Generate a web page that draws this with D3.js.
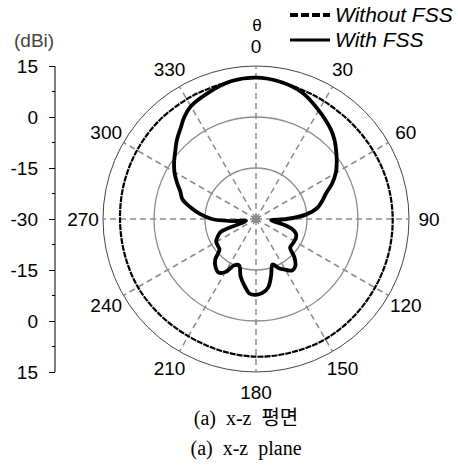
<!DOCTYPE html>
<html>
<head>
<meta charset="utf-8">
<script src="https://cdn.jsdelivr.net/npm/d3@7"></script>
<style>
  body { margin: 0; background: #fff; }
  svg { display: block; }
</style>
</head>
<body>
<script>
// angles in degrees, gains in dBi
var anglesWith = [0, 10, 20, 30, 40, 45, 50, 55, 60, 65, 70, 75, 80, 85, 90, 95, 100, 105, 110, 115,
  120, 125, 130, 135, 140, 145, 150, 155, 160, 165, 170, 175, 180, 185, 190, 195, 200, 205, 210, 215,
  220, 225, 230, 235, 240, 245, 250, 255, 260, 265, 270, 275, 280, 285, 290, 295, 300, 305, 310, 315,
  320, 325, 330, 340, 350];
var gainWith = [11.6, 11.0, 9.6, 6.9, 4.3, 2.7, 0.8, -1.0, -2.9, -5.3, -8.1, -9.9, -11.8, -15.3, -21, -25.5, -23, -19.2, -17.5, -17,
  -17, -17, -16.9, -14, -12, -11.5, -12.8, -14, -15.8, -12.8, -9.5, -8.2, -7.7, -8, -10.2, -12.5, -15.5, -15, -12, -10.8,
  -11.5, -13, -16, -16.3, -16.5, -17.5, -19, -26, -27, -23, -17, -13.6, -10.5, -7.6, -6.3, -4.3, -2.3, -0.6, 1.0, 2.9,
  4.6, 6.7, 8.3, 9.8, 11.2];

var anglesWithout = [0, 10, 20, 30, 45, 60, 75, 90, 105, 120, 135, 150, 165, 180, 195, 210, 225, 240,
  255, 270, 285, 300, 315, 330, 340, 350];
var gainWithout = [11.6, 11.0, 10.3, 10.0, 9.8, 9.9, 10.1, 10.2, 10.3, 10.4, 10.6, 10.8, 10.6, 10.5, 10.1, 9.8, 9.9, 10.1,
  10.0, 10.0, 10.2, 10.4, 10.6, 10.7, 10.8, 11.2];

var angleTicks = [0, 30, 60, 90, 120, 150, 180, 210, 240, 270, 300, 330];
var radialTicks = [-45, -30, -15, 0, 15, 30, 45];
var gridLevels = [-15, 0];
var seriesNames = ["Without FSS", "With FSS"];
var captions = ["(a)  x-z  평면", "(a)  x-z  plane"];

var width = 458, height = 465;
var cx = 256, cy = 219, R = 153;

var svg = d3.select("body").append("svg")
    .attr("width", width)
    .attr("height", height);

var r = d3.scaleLinear().domain([-30, 15]).range([0, R]);
var rad = function(d) { return d * Math.PI / 180; };

var g = svg.append("g").attr("transform", "translate(" + cx + "," + cy + ")");

// grid circles
g.selectAll(".grid")
    .data(gridLevels)
    .enter().append("circle")
    .attr("r", function(d) { return r(d); })
    .attr("fill", "none")
    .attr("stroke", "#8c8c8c")
    .attr("stroke-width", 1.3);

g.append("circle")
    .attr("r", r(15))
    .attr("fill", "none")
    .attr("stroke", "#444")
    .attr("stroke-width", 1);

// spokes
g.selectAll(".spoke")
    .data(angleTicks)
    .enter().append("line")
    .attr("x1", 0).attr("y1", 0)
    .attr("x2", function(d) { return r(15) * Math.sin(rad(d)); })
    .attr("y2", function(d) { return -r(15) * Math.cos(rad(d)); })
    .attr("stroke", "#8c8c8c")
    .attr("stroke-width", 1.5)
    .attr("stroke-dasharray", "6,4");

g.append("circle").attr("r", 4).attr("fill", "#8c8c8c");

// angle labels
g.selectAll(".alabel")
    .data(angleTicks)
    .enter().append("text")
    .attr("x", function(d) { return 173 * Math.sin(rad(d)); })
    .attr("y", function(d) { return -173 * Math.cos(rad(d)); })
    .attr("dy", "0.35em")
    .attr("text-anchor", "middle")
    .style("font-family", "'Liberation Sans', Arial, sans-serif")
    .style("font-size", "19px")
    .text(function(d) { return d; });

// patterns
var line = d3.lineRadial()
    .angle(function(d) { return rad(d[0]); })
    .radius(function(d) { return r(d[1]); })
    .curve(d3.curveCatmullRomClosed);

g.append("path")
    .datum(d3.zip(anglesWithout, gainWithout))
    .attr("d", line)
    .attr("fill", "none")
    .attr("stroke", "#000")
    .attr("stroke-width", 2.2)
    .attr("stroke-dasharray", "6,1");

g.append("path")
    .datum(d3.zip(anglesWith, gainWith))
    .attr("d", line)
    .attr("fill", "none")
    .attr("stroke", "#000")
    .attr("stroke-width", 3.8)
    .attr("stroke-linejoin", "round");

// radial axis on the left
var yAxisScale = d3.scaleLinear().domain([-45, 45]).range([cy + R, cy - R]);
var axisG = svg.append("g")
    .attr("transform", "translate(55,0)")
    .call(d3.axisLeft(yAxisScale)
        .tickValues(radialTicks)
        .tickSize(6)
        .tickPadding(11)
        .tickFormat(function(d) { return Math.abs(d) - 30; }));
axisG.select(".domain").attr("stroke", "#000").attr("d", "M0," + (cy - R) + "V" + (cy + R));
axisG.selectAll("text")
    .style("font-family", "'Liberation Sans', Arial, sans-serif")
    .style("font-size", "19px")
    .attr("fill", "#000");
axisG.selectAll(".minor")
    .data([-37.5, -22.5, -7.5, 7.5, 22.5, 37.5])
    .enter().append("line")
    .attr("x1", -3).attr("x2", 0)
    .attr("y1", function(d) { return yAxisScale(d); })
    .attr("y2", function(d) { return yAxisScale(d); })
    .attr("stroke", "#000");

svg.append("text")
    .attr("x", 14).attr("y", 40).attr("dy", "0.35em")
    .style("font-family", "'Liberation Sans', Arial, sans-serif")
    .style("font-size", "19px")
    .style("fill", "#444")
    .text("(dBi)");

svg.append("text")
    .attr("x", cx + 1).attr("y", 25).attr("dy", "0.35em")
    .attr("text-anchor", "middle")
    .style("font-family", "'Liberation Sans', Arial, sans-serif")
    .style("font-size", "17px")
    .text("θ");

// legend
var legend = svg.selectAll(".legend")
    .data(seriesNames)
    .enter().append("g")
    .attr("transform", function(d, i) { return "translate(290," + (15 + i * 25) + ")"; });
legend.append("line")
    .attr("x1", 0).attr("x2", 40)
    .attr("stroke", "#000")
    .attr("stroke-width", function(d, i) { return i === 0 ? 4 : 3; })
    .attr("stroke-dasharray", function(d, i) { return i === 0 ? "8,3" : null; });
legend.append("text")
    .attr("x", 45).attr("dy", "0.35em")
    .style("font-family", "'Liberation Sans', Arial, sans-serif")
    .style("font-size", "21px")
    .style("font-style", "italic")
    .text(function(d) { return d; });

// captions
svg.selectAll(".caption")
    .data(captions)
    .enter().append("text")
    .attr("x", 246).attr("y", function(d, i) { return 418 + i * 30; })
    .attr("dy", "0.35em")
    .attr("text-anchor", "middle")
    .attr("xml:space", "preserve")
    .style("white-space", "pre")
    .style("font-family", "'Liberation Serif', 'Times New Roman', 'Noto Sans CJK KR', serif")
    .style("font-size", "20px")
    .text(function(d) { return d; });
</script>
</body>
</html>
